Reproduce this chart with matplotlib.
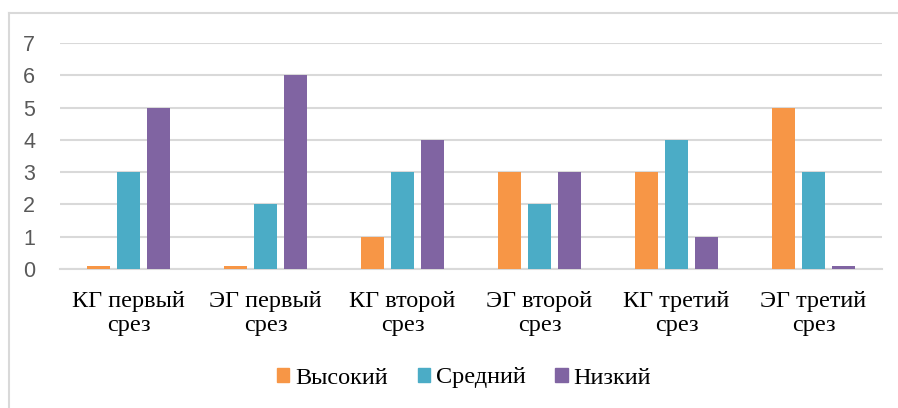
import numpy as np
import matplotlib.pyplot as plt
from matplotlib.lines import Line2D
from matplotlib.patches import Patch

# dannye diagrammy
categories = ['КГ первый\nсрез', 'ЭГ первый\nсрез', 'КГ второй\nсрез',
              'ЭГ второй\nсрез', 'КГ третий\nсрез', 'ЭГ третий\nсрез']
series_names = ['Высокий', 'Средний', 'Низкий']
vysokiy = [0.1, 0.1, 1, 3, 3, 5]
sredniy = [3, 2, 3, 2, 4, 3]
nizkiy = [5, 6, 4, 3, 1, 0.1]
colors = ['#F79646', '#4BACC6', '#8064A2']

W, H = 898, 408
fig = plt.figure(figsize=(W / 100, H / 100), dpi=100)
ax = fig.add_axes([60 / W, 1 - 269 / H, 822 / W, 226 / H])

x = np.arange(len(categories))
bw = 0.175
step = 0.219
for i, (vals, col) in enumerate(zip([vysokiy, sredniy, nizkiy], colors)):
    ax.bar(x + (i - 1) * step, vals, width=bw, color=col, zorder=3)

ax.set_xlim(-0.5, len(categories) - 0.5)
ax.set_ylim(0, 7)
ax.set_yticks(range(8))
ax.yaxis.grid(True, color='#D9D9D9', linewidth=1.5, zorder=0)
for s in ['top', 'right', 'left']:
    ax.spines[s].set_visible(False)
ax.spines['bottom'].set_color('#D9D9D9')
ax.spines['bottom'].set_linewidth(1.5)
ax.tick_params(axis='both', length=0)
ax.tick_params(axis='y', pad=18, labelsize=15.5, labelcolor='#595959')
ax.set_yticklabels([str(v) for v in range(8)], family='Liberation Sans')

ax.set_xticks(x)
ax.set_xticklabels(categories, family='Liberation Serif', fontsize=17.5, linespacing=1.2)
ax.tick_params(axis='x', pad=16)

handles = [Patch(color=c) for c in colors]
fig.legend(handles, series_names, loc='center', bbox_to_anchor=(464 / W, 1 - 378 / H),
           ncol=3, frameon=False, prop={'family': 'Liberation Serif', 'size': 17.5},
           handlelength=0.5, handleheight=0.5, handletextpad=0.25, columnspacing=1.23)

# ramka
fig.add_artist(Line2D([8.5 / W, 1], [1 - 13 / H, 1 - 13 / H], color='#D9D9D9', lw=1.5,
                      transform=fig.transFigure))
fig.add_artist(Line2D([8.5 / W, 8.5 / W], [0, 1 - 13 / H], color='#D9D9D9', lw=1.5,
                      transform=fig.transFigure))

fig.savefig('out.png', dpi=100)
